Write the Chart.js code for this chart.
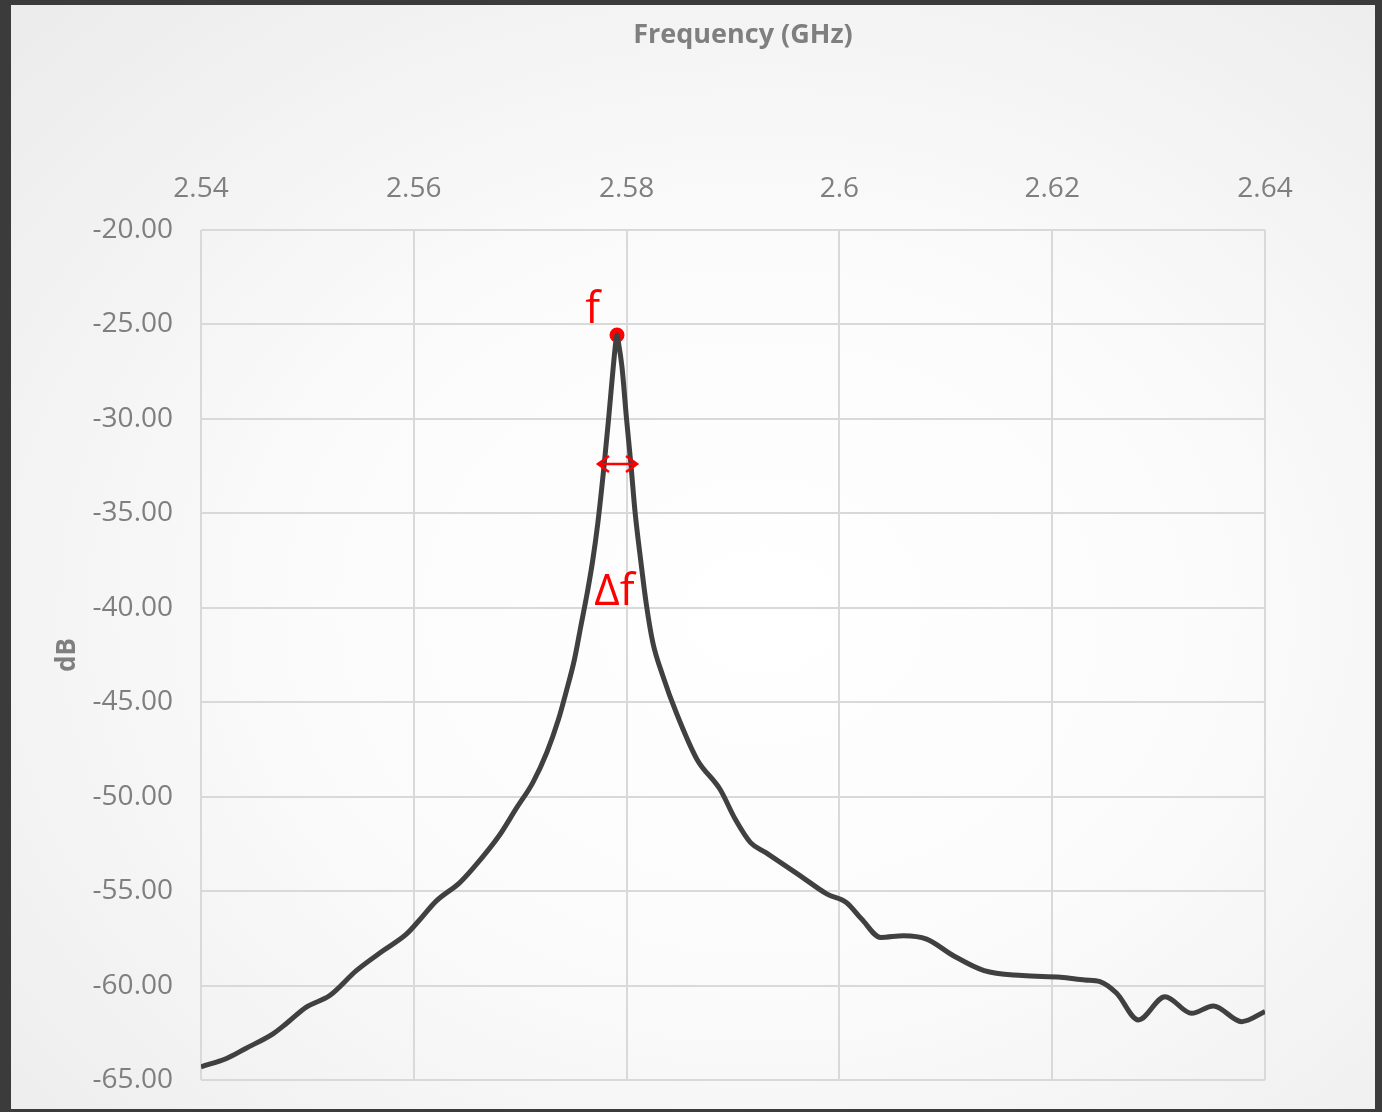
<!DOCTYPE html>
<html>
<head>
<meta charset="utf-8">
<script src="https://cdn.jsdelivr.net/npm/chart.js@4.4.1/dist/chart.umd.min.js"></script>
<style>
    html, body { margin: 0; padding: 0; background: #3b3b3b; }
    body { width: 1382px; height: 1112px; position: relative; overflow: hidden; }
    #painel {
        position: absolute; left: 11px; top: 5px; width: 1364px; height: 1104px;
        background: radial-gradient(ellipse 75% 75% at 55% 55%, #ffffff 0%, #fbfbfb 45%, #ececec 100%);
    }
</style>
</head>
<body>
<div id="painel"><canvas id="grafico" width="1364" height="1104"></canvas></div>
<script>
// resposta medida (GHz, dB)
const freqGHz = [
    2.5400, 2.5424, 2.5442, 2.5468, 2.5480, 2.5499, 2.5521, 2.5546, 2.5571, 2.5593,
    2.5606, 2.5621, 2.5643, 2.5656, 2.5681, 2.5696, 2.5712, 2.5725, 2.5736, 2.5743,
    2.5751, 2.5757, 2.5763, 2.5768, 2.5773, 2.5779, 2.5783, 2.57875, 2.5790, 2.5791,
    2.5792, 2.57956, 2.5800, 2.5804, 2.5808, 2.58135, 2.58185, 2.58247, 2.58341, 2.5847,
    2.58662, 2.58878, 2.59022, 2.59165, 2.59309, 2.59633, 2.59885, 2.60065, 2.60209, 2.60388,
    2.60604, 2.6082, 2.61072, 2.6136, 2.6172, 2.6208, 2.62308, 2.62449, 2.62606, 2.6281,
    2.6306, 2.63311, 2.63514, 2.63781, 2.6400
];
const levelDb = [
    -64.30, -63.86, -63.33, -62.54, -62.02, -61.14, -60.53, -59.21, -58.16, -57.28,
    -56.49, -55.53, -54.56, -53.77, -52.00, -50.65, -49.24, -47.66, -45.90, -44.49,
    -42.73, -40.97, -39.21, -37.55, -35.50, -32.38, -30.04, -27.23, -25.85, -25.56,
    -25.85, -27.23, -30.04, -32.38, -34.96, -37.60, -39.80, -41.85, -43.61, -45.60,
    -48.03, -49.61, -51.20, -52.43, -52.96, -54.19, -55.16, -55.60, -56.48, -57.45,
    -57.36, -57.54, -58.42, -59.21, -59.47, -59.56, -59.70, -59.79, -60.41, -61.82,
    -60.59, -61.47, -61.08, -61.91, -61.38
];

const xTickValues = [2.54, 2.56, 2.58, 2.60, 2.62, 2.64];
const xTickLabels = ['2.54', '2.56', '2.58', '2.6', '2.62', '2.64'];
const yMin = -65, yMax = -20, yStep = 5;
const tituloX = 'Frequency (GHz)';
const tituloY = 'dB';

// marcacoes: pico f e largura de banda Δf
const picoF = [2.5791, -25.56];
const rotuloF = [2.5768, -24.92];
const setaDeltaF = [2.57731, 2.58098, -32.39];
const rotuloDeltaF = [2.57886, -39.85];

const cinza = '#7f7f7f';
const grade = '#d9d9d9';
const vermelho = '#ff0000';

const marcacoes = {
    id: 'marcacoes',
    afterDatasetsDraw(chart) {
        const c = chart.ctx;
        const x = chart.scales.x, y = chart.scales.y;
        c.save();

        // titulo do eixo x (um pouco a direita do centro, como no original)
        c.fillStyle = cinza;
        c.font = 'bold 27px "Open Sans"';
        c.textAlign = 'center';
        c.textBaseline = 'middle';
        c.fillText(tituloX, (chart.chartArea.left + chart.chartArea.right) / 2 + 10, 30);

        c.fillStyle = vermelho;
        c.strokeStyle = vermelho;
        c.font = '44px "Open Sans"';
        c.textBaseline = 'alphabetic';
        c.fillText('f', x.getPixelForValue(rotuloF[0]), y.getPixelForValue(rotuloF[1]));
        c.fillText('Δf', x.getPixelForValue(rotuloDeltaF[0]), y.getPixelForValue(rotuloDeltaF[1]));

        const x1 = x.getPixelForValue(setaDeltaF[0]);
        const x2 = x.getPixelForValue(setaDeltaF[1]);
        const ya = y.getPixelForValue(setaDeltaF[2]);
        c.lineWidth = 2.5;
        c.beginPath();
        c.moveTo(x1, ya); c.lineTo(x2, ya);
        c.moveTo(x1 + 11, ya - 8); c.lineTo(x1, ya); c.lineTo(x1 + 11, ya + 8);
        c.moveTo(x2 - 11, ya - 8); c.lineTo(x2, ya); c.lineTo(x2 - 11, ya + 8);
        c.stroke();
        c.restore();
    }
};

const ctx = document.getElementById('grafico');

new Chart(ctx, {
    type: 'line',
    data: {
        datasets: [{
            data: freqGHz.map(function(f, i) { return { x: f, y: levelDb[i] }; }),
            borderColor: '#404040',
            borderWidth: 5,
            pointRadius: 0,
            cubicInterpolationMode: 'monotone',
            fill: false
        }, {
            data: [{ x: picoF[0], y: picoF[1] }],
            showLine: false,
            pointRadius: 7.5,
            pointBackgroundColor: vermelho,
            pointBorderColor: vermelho,
            pointBorderWidth: 0
        }]
    },
    options: {
        responsive: false,
        animation: false,
        layout: { padding: { left: 0, top: 0, right: 110, bottom: 29 } },
        plugins: {
            legend: { display: false },
            tooltip: { enabled: false }
        },
        scales: {
            x: {
                type: 'linear',
                position: 'top',
                min: 2.54,
                max: 2.64,
                afterBuildTicks: function(scale) {
                    scale.ticks = xTickValues.map(function(v) { return { value: v }; });
                },
                afterFit: function(scale) { scale.height = 225; },
                ticks: {
                    color: cinza,
                    padding: 24,
                    maxRotation: 0,
                    font: { family: '"Open Sans"', size: 28 },
                    callback: function(v) {
                        const i = xTickValues.findIndex(function(t) { return Math.abs(t - v) < 1e-6; });
                        return i >= 0 ? xTickLabels[i] : '';
                    }
                },
                grid: { color: grade, lineWidth: 2, drawTicks: false },
                border: { display: false },
                title: { display: false }
            },
            y: {
                min: yMin,
                max: yMax,
                afterFit: function(scale) {
                    scale.width = 190;
                    scale.paddingTop = 0;
                    scale.paddingBottom = 0;
                },
                ticks: {
                    stepSize: yStep,
                    color: cinza,
                    padding: 28,
                    font: { family: '"Open Sans"', size: 28 },
                    callback: function(v) { return v.toFixed(2); }
                },
                grid: { color: grade, lineWidth: 2, drawTicks: false },
                border: { display: false },
                title: {
                    display: true,
                    text: tituloY,
                    color: cinza,
                    padding: { top: 41, bottom: 0 },
                    font: { family: '"Open Sans"', size: 26, weight: 'bold' }
                }
            }
        }
    },
    plugins: [marcacoes]
});
</script>
</body>
</html>
